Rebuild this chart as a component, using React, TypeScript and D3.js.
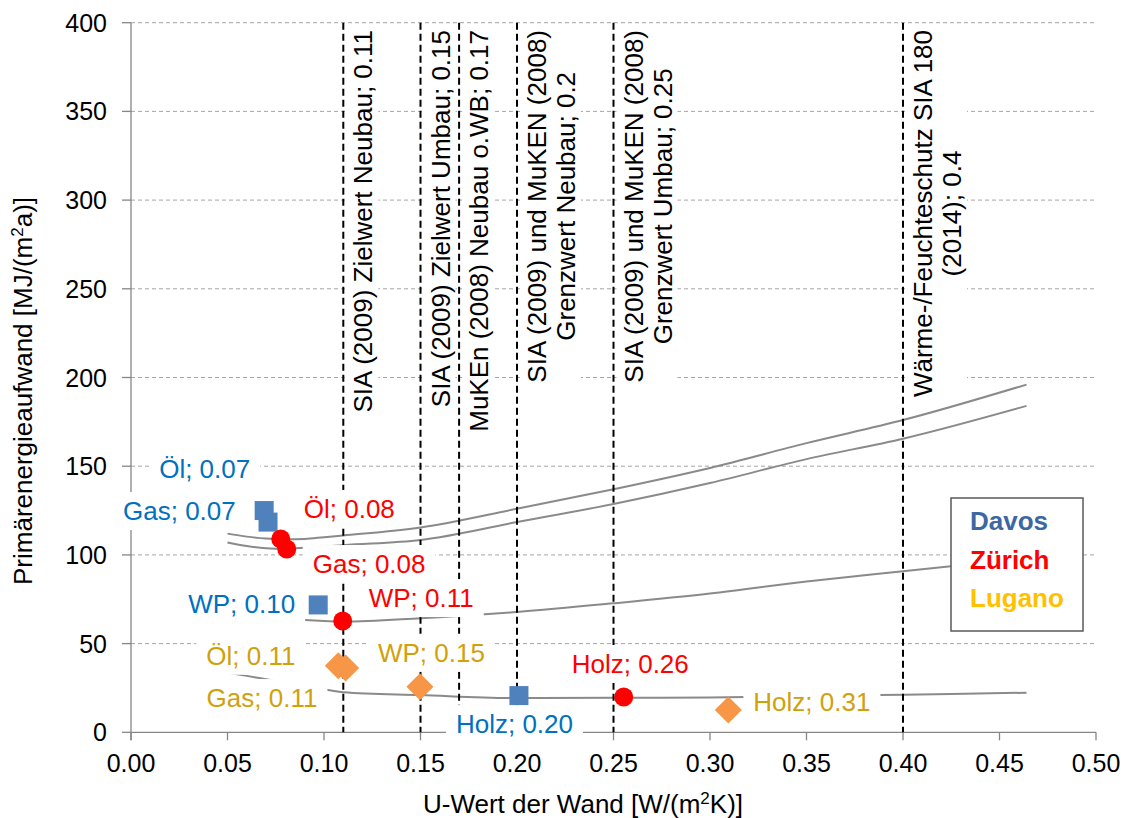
import React, { useEffect, useRef } from "react";
import * as d3 from "d3";

// ---------- data ----------
const X_TICKS = [0, 0.05, 0.1, 0.15, 0.2, 0.25, 0.3, 0.35, 0.4, 0.45, 0.5];
const Y_TICKS = [0, 50, 100, 150, 200, 250, 300, 350, 400];

const STANDARD_VALUES = [0.11, 0.15, 0.17, 0.2, 0.25, 0.4];
const STANDARD_LABELS = [
  ["SIA (2009) Zielwert Neubau; 0.11"],
  ["SIA (2009) Zielwert Umbau; 0.15"],
  ["MuKEn (2008) Neubau o.WB; 0.17"],
  ["SIA (2009) und MuKEN (2008)", "Grenzwert Neubau; 0.2"],
  ["SIA (2009) und MuKEN (2008)", "Grenzwert Umbau; 0.25"],
  ["Wärme-/Feuchteschutz SIA 180", "(2014); 0.4"],
];

// curves (U-value -> primary energy)
const CURVE_U = [0.05, 0.06, 0.07, 0.08, 0.09, 0.1, 0.11, 0.15, 0.2, 0.25, 0.3, 0.35, 0.4, 0.464];
const CURVE_A = [112, 110.3, 109.2, 108.8, 109, 110, 111, 115.5, 126, 137, 149, 163, 176, 196];
const CURVE_B = [107, 105, 103.8, 103.5, 104, 104.7, 105.5, 108.4, 118.5, 128.7, 140.5, 154, 165.5, 184];
const CURVE_C = [65.5, 64.8, 64.2, 63.7, 63.3, 62.8, 62.4, 64.3, 67.8, 72.7, 78.2, 85, 90.8, 98];
const CURVE_D = [33.6, 31.8, 29.9, 28.0, 26.2, 24.3, 22.6, 21.0, 19.3, 19.5, 19.6, 20.3, 21.2, 22.3];

const DAVOS_U = [0.069, 0.071, 0.097, 0.201];
const DAVOS_E = [125, 118.5, 71.8, 20.7];
const DAVOS_LABELS = ["Öl; 0.07", "Gas; 0.07", "WP; 0.10", "Holz; 0.20"];

const ZURICH_U = [0.0776, 0.0807, 0.1097, 0.2553];
const ZURICH_E = [109, 103.3, 62.7, 19.9];
const ZURICH_LABELS = ["Öl; 0.08", "Gas; 0.08", "WP; 0.11", "Holz; 0.26"];

const LUGANO_U = [0.1074, 0.1112, 0.1497, 0.3095];
const LUGANO_E = [37.5, 36.2, 25.7, 12.6];
const LUGANO_LABELS = ["Öl; 0.11", "Gas; 0.11", "WP; 0.15", "Holz; 0.31"];

const LEGEND_NAMES = ["Davos", "Zürich", "Lugano"];

// ---------- layout (label offsets from marker, px) ----------
const DAVOS_OFF = [[-105, -32.5], [-145, -2], [-130, 8], [-63, 37.5]];
const ZURICH_OFF = [[23, -21], [26, 24], [26, -14], [-52, -24]];
const LUGANO_OFF = [[-132, -1], [-139, 39], [-42, -25], [25, 1]];

const FONT = "Arial, 'Liberation Sans', sans-serif";

export default function App() {
  const ref = useRef<SVGSVGElement>(null);

  useEffect(() => {
    const svg = d3.select(ref.current);
    svg.selectAll("*").remove();

    const x = d3.scaleLinear().domain([0, 0.5]).range([131, 1096]);
    const y = d3.scaleLinear().domain([0, 400]).range([732.3, 22.7]);
    const x0 = x(0), x1 = x(0.5), y0 = y(0);

    svg.append("rect").attr("width", 1126).attr("height", 818).attr("fill", "#fff");

    // gridlines
    const grid = svg.append("g");
    Y_TICKS.filter((t) => t > 0).forEach((t) => {
      grid.append("line").attr("x1", x0).attr("x2", x1).attr("y1", y(t)).attr("y2", y(t))
        .attr("stroke", "#a6a6a6").attr("stroke-width", 1).attr("stroke-dasharray", "4,3");
    });

    // axes
    const ax = svg.append("g").attr("stroke", "#868686").attr("stroke-width", 1.3);
    ax.append("line").attr("x1", x0).attr("x2", x0).attr("y1", y(400)).attr("y2", y0 + 8);
    Y_TICKS.forEach((t) => {
      ax.append("line").attr("x1", x0 - 9).attr("x2", x0).attr("y1", y(t)).attr("y2", y(t));
    });

    // y tick labels
    Y_TICKS.forEach((t) => {
      svg.append("text").attr("x", 107).attr("y", y(t)).attr("dy", "0.36em")
        .attr("text-anchor", "end").attr("font-family", FONT).attr("font-size", 25)
        .attr("fill", "#000").text(String(t));
    });
    // x tick labels
    X_TICKS.forEach((t) => {
      svg.append("text").attr("x", x(t)).attr("y", 772)
        .attr("text-anchor", "middle").attr("font-family", FONT).attr("font-size", 25)
        .attr("fill", "#000").text(t.toFixed(2));
    });

    // axis titles
    const yt = svg.append("text").attr("transform", `translate(32,391) rotate(-90)`)
      .attr("text-anchor", "middle").attr("font-family", FONT).attr("font-size", 26).attr("fill", "#000");
    yt.append("tspan").text("Primärenergieaufwand [MJ/(m");
    yt.append("tspan").attr("font-size", 17).attr("dy", -9).text("2");
    yt.append("tspan").attr("dy", 9).text("a)]");

    const xt = svg.append("text").attr("x", 583).attr("y", 813)
      .attr("text-anchor", "middle").attr("font-family", FONT).attr("font-size", 26).attr("fill", "#000");
    xt.append("tspan").text("U-Wert der Wand [W/(m");
    xt.append("tspan").attr("font-size", 17).attr("dy", -9).text("2");
    xt.append("tspan").attr("dy", 9).text("K)]");

    // rotated standard labels (white boxes)
    STANDARD_VALUES.forEach((v, i) => {
      const g = svg.append("g");
      const lines = STANDARD_LABELS[i];
      const texts = lines.map((ln, j) =>
        g.append("text").attr("x", 0).attr("y", j * 29).attr("text-anchor", "middle")
          .attr("font-family", FONT).attr("font-size", 26).attr("fill", "#000").text(ln)
      );
      const L = d3.max(texts, (t) => (t.node() as SVGTextElement).getComputedTextLength()) || 0;
      g.attr("transform", `translate(${x(v) + 29},${30 + L / 2}) rotate(-90)`);
      const bb = (g.node() as SVGGElement).getBBox();
      g.insert("rect", ":first-child").attr("x", bb.x - 3).attr("y", bb.y - 2)
        .attr("width", bb.width + 6).attr("height", bb.height + 2).attr("fill", "#fff");
    });

    // curves
    const line = d3.line<number>().x((_, i) => x(CURVE_U[i])).y((d) => y(d)).curve(d3.curveMonotoneX);
    [CURVE_A, CURVE_B, CURVE_C, CURVE_D].forEach((c) => {
      svg.append("path").attr("d", line(c) || "").attr("fill", "none")
        .attr("stroke", "#8a8a8a").attr("stroke-width", 2);
    });

    // x axis line + ticks
    const ax2 = svg.append("g").attr("stroke", "#868686").attr("stroke-width", 1.3);
    ax2.append("line").attr("x1", x0).attr("x2", x1).attr("y1", y0).attr("y2", y0);
    X_TICKS.forEach((t) => {
      ax2.append("line").attr("x1", x(t)).attr("x2", x(t)).attr("y1", y0).attr("y2", y0 + 8);
    });

    // vertical standard lines
    STANDARD_VALUES.forEach((v) => {
      svg.append("line").attr("x1", x(v)).attr("x2", x(v)).attr("y1", y(400)).attr("y2", y0)
        .attr("stroke", "#000").attr("stroke-width", 2).attr("stroke-dasharray", "7,4");
    });

    // legend
    svg.append("rect").attr("x", 951).attr("y", 498).attr("width", 132).attr("height", 133)
      .attr("fill", "#fff").attr("stroke", "#5a5a5a").attr("stroke-width", 1.5);
    const legColors = ["#3B68A3", "#FF0000", "#FFC000"];
    const legY = [530, 569, 607];
    LEGEND_NAMES.forEach((n, i) => {
      svg.append("text").attr("x", 970).attr("y", legY[i]).attr("font-family", FONT)
        .attr("font-weight", "bold").attr("font-size", 26).attr("fill", legColors[i]).text(n);
    });

    // data labels
    const addLabels = (us: number[], es: number[], labels: string[], off: number[][], color: string) => {
      us.forEach((u, i) => {
        const g = svg.append("g");
        const t = g.append("text").attr("x", x(u) + off[i][0]).attr("y", y(es[i]) + off[i][1])
          .attr("font-family", FONT).attr("font-size", 26).attr("fill", color).text(labels[i]);
        const bb = (t.node() as SVGTextElement).getBBox();
        g.insert("rect", ":first-child").attr("x", bb.x - 10).attr("y", bb.y - 4)
          .attr("width", bb.width + 20).attr("height", bb.height + 8).attr("fill", "#fff");
      });
    };
    addLabels(DAVOS_U, DAVOS_E, DAVOS_LABELS, DAVOS_OFF, "#0070C0");
    addLabels(ZURICH_U, ZURICH_E, ZURICH_LABELS, ZURICH_OFF, "#FF0000");
    addLabels(LUGANO_U, LUGANO_E, LUGANO_LABELS, LUGANO_OFF, "#D1A10C");

    // markers
    DAVOS_U.forEach((u, i) => {
      svg.append("rect").attr("x", x(u) - 9.5).attr("y", y(DAVOS_E[i]) - 9.5)
        .attr("width", 19).attr("height", 19).attr("fill", "#4F81BD");
    });
    ZURICH_U.forEach((u, i) => {
      svg.append("circle").attr("cx", x(u)).attr("cy", y(ZURICH_E[i])).attr("r", 9.5).attr("fill", "#FF0000");
    });
    const diamond = d3.symbol().type(d3.symbolSquare).size(364);
    LUGANO_U.forEach((u, i) => {
      svg.append("path").attr("d", diamond() || "")
        .attr("transform", `translate(${x(u)},${y(LUGANO_E[i])}) rotate(45)`).attr("fill", "#F79646");
    });
  }, []);

  return (
    <svg
      ref={ref}
      width={1126}
      height={818}
      style={{ position: "absolute", left: 0, top: 0, display: "block" }}
    />
  );
}
